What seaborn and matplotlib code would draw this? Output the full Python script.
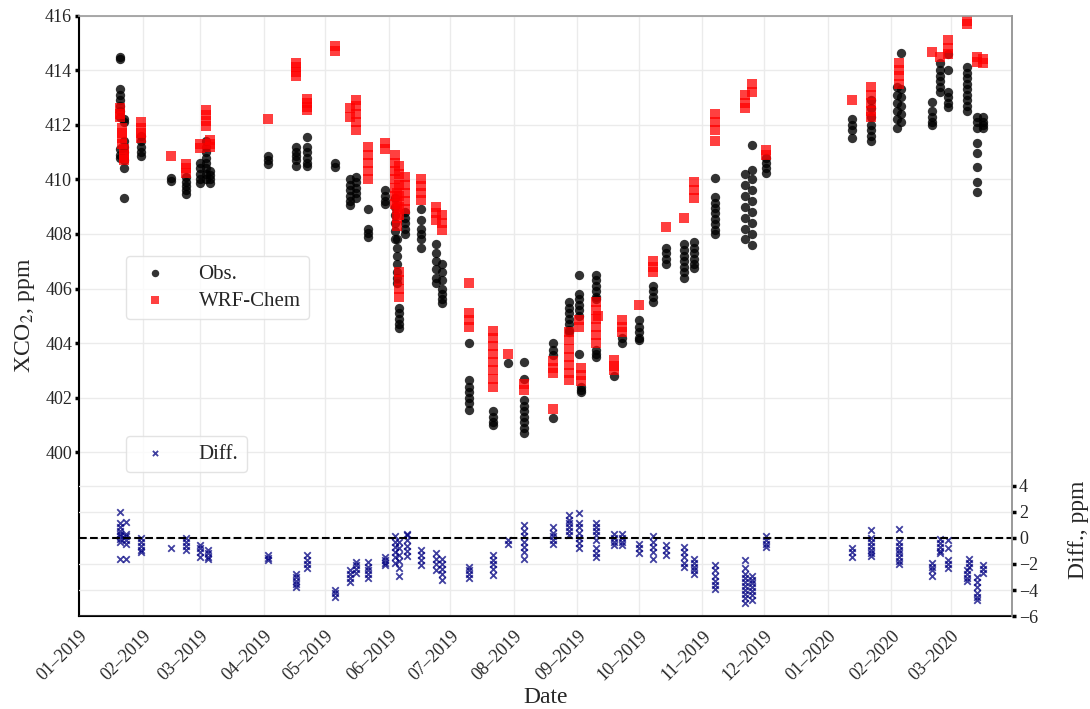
import pandas as pd
import matplotlib
matplotlib.use("Agg")
import matplotlib.pyplot as plt
import matplotlib.dates as mdates
import seaborn as sns

# ==========================================
# Data
# ==========================================

obs_dates = [
    "2019-01-21", "2019-01-23", "2019-01-31", "2019-02-15", "2019-02-22",
    "2019-03-01", "2019-03-04", "2019-03-06", "2019-04-03", "2019-04-17",
    "2019-04-22", "2019-05-06", "2019-05-13", "2019-05-16", "2019-05-22",
    "2019-05-30", "2019-06-04", "2019-06-05", "2019-06-06", "2019-06-09",
    "2019-06-17", "2019-06-24", "2019-06-27", "2019-07-10", "2019-07-22",
    "2019-07-29", "2019-08-06", "2019-08-20", "2019-08-28", "2019-09-02",
    "2019-09-03", "2019-09-10", "2019-09-19", "2019-09-23", "2019-10-01",
    "2019-10-08", "2019-10-14", "2019-10-23", "2019-10-28", "2019-11-07",
    "2019-11-22", "2019-11-25", "2019-12-02", "2020-01-13", "2020-01-22",
    "2020-02-04", "2020-02-06", "2020-02-21", "2020-02-25", "2020-02-29",
    "2020-03-09", "2020-03-14", "2020-03-17",
]
obs_ppm = [
    [414.5, 414.4, 413.3, 413.1, 412.9, 412.7, 412.5, 412.3, 411.1, 410.9, 410.8],
    [412.2, 412.1, 411.4, 411.2, 411.0, 410.7, 410.4, 409.3],
    [411.6, 411.4, 411.2, 411.0, 410.85],
    [410.05, 409.95],
    [410.1, 409.9, 409.75, 409.6, 409.45],
    [410.6, 410.4, 410.2, 410.0, 409.85],
    [411.4, 411.2, 411.0, 410.8, 410.6, 410.4, 410.2, 410.0],
    [410.3, 410.15, 410.0, 409.85],
    [410.85, 410.7, 410.55],
    [411.2, 411.0, 410.85, 410.7, 410.5],
    [411.55, 411.2, 411.0, 410.8, 410.6, 410.5],
    [410.6, 410.45],
    [410.0, 409.8, 409.6, 409.4, 409.2, 409.05],
    [410.1, 409.9, 409.7, 409.5, 409.3],
    [408.9, 408.2, 408.05, 407.9],
    [409.6, 409.4, 409.2, 409.1],
    [409.3, 409.0, 408.7, 408.4, 408.1, 407.8],
    [407.8, 407.5, 407.2, 406.9, 406.6, 406.4, 406.2],
    [405.3, 405.1, 404.9, 404.7, 404.55],
    [408.8, 408.6, 408.4, 408.2, 408.0],
    [408.9, 408.5, 408.2, 408.0, 407.8, 407.5],
    [407.65, 407.3, 407.0, 406.7, 406.4, 406.2],
    [406.9, 406.6, 406.3, 406.0, 405.8, 405.6, 405.46],
    [404.0, 402.65, 402.4, 402.2, 402.0, 401.8, 401.55],
    [401.5, 401.3, 401.1, 401.0],
    [403.27],
    [403.3, 402.7, 401.9, 401.7, 401.5, 401.3, 401.1, 400.9, 400.7],
    [404.0, 403.75, 403.55, 401.25],
    [405.5, 405.3, 405.1, 404.9, 404.7, 404.5, 404.4],
    [406.5, 405.8, 405.6, 405.4, 405.2, 405.0, 403.6],
    [402.4, 402.3, 402.2],
    [406.5, 406.3, 406.1, 405.9, 405.7, 405.6, 403.75, 403.6, 403.5],
    [402.8],
    [404.2, 404.0],
    [404.85, 404.6, 404.4, 404.2, 404.1],
    [406.1, 405.9, 405.7, 405.5],
    [407.5, 407.3, 407.1, 406.9],
    [407.65, 407.4, 407.2, 407.0, 406.8, 406.6, 406.4],
    [407.7, 407.5, 407.3, 407.1, 406.9, 406.75],
    [410.05, 409.35, 409.15, 408.95, 408.75, 408.55, 408.35, 408.15, 408.0],
    [410.2, 409.8, 409.4, 409.0, 408.6, 408.2, 407.8],
    [411.27, 410.35, 410.0, 409.6, 409.2, 408.8, 408.4, 408.0, 407.6],
    [410.8, 410.6, 410.4, 410.25],
    [412.2, 412.0, 411.8, 411.5],
    [412.9, 412.6, 412.3, 412.0, 411.8, 411.6, 411.4],
    [413.4, 413.1, 412.8, 412.5, 412.2, 411.9],
    [414.63, 413.3, 413.0, 412.7, 412.4, 412.1],
    [412.85, 412.5, 412.3, 412.1, 412.0],
    [414.27, 414.0, 413.8, 413.6, 413.4, 413.2],
    [414.6, 414.0, 413.2, 413.0, 412.8, 412.65],
    [414.1, 413.9, 413.7, 413.5, 413.3, 413.1, 412.9, 412.7, 412.5],
    [412.3, 412.1, 411.9, 411.33, 410.97, 410.47, 409.9, 409.55],
    [412.3, 412.1, 412.0, 411.9],
]

wrf_dates = [
    "2019-01-21", "2019-01-22", "2019-01-23", "2019-01-31", "2019-02-15",
    "2019-02-22", "2019-03-01", "2019-03-04", "2019-03-06", "2019-04-03",
    "2019-04-17", "2019-04-22", "2019-05-06", "2019-05-13", "2019-05-16",
    "2019-05-22", "2019-05-30", "2019-06-04", "2019-06-05", "2019-06-06",
    "2019-06-09", "2019-06-17", "2019-06-24", "2019-06-27", "2019-07-10",
    "2019-07-22", "2019-07-29", "2019-08-06", "2019-08-20", "2019-08-28",
    "2019-09-02", "2019-09-03", "2019-09-10", "2019-09-11", "2019-09-19",
    "2019-09-23", "2019-10-01", "2019-10-08", "2019-10-14", "2019-10-23",
    "2019-10-28", "2019-11-07", "2019-11-22", "2019-11-25", "2019-12-02",
    "2020-01-13", "2020-01-22", "2020-02-05", "2020-02-21", "2020-02-25",
    "2020-02-29", "2020-03-09", "2020-03-14", "2020-03-17",
]
wrf_ppm = [
    [412.6, 412.4, 412.3],
    [411.9, 411.7, 411.5, 411.3],
    [411.1, 410.9, 410.8, 410.7],
    [412.1, 411.9, 411.7, 411.5],
    [410.85],
    [410.55, 410.4, 410.25],
    [411.3, 411.15],
    [412.55, 412.35, 412.15, 411.95],
    [411.45, 411.3, 411.2],
    [412.2],
    [414.25, 414.1, 413.95, 413.8],
    [412.95, 412.8, 412.65, 412.55],
    [414.9, 414.7],
    [412.6, 412.3],
    [412.9, 412.7, 412.4, 412.1, 411.8],
    [411.2, 410.9, 410.6, 410.3, 410.0],
    [411.35, 411.1],
    [410.9, 410.6, 410.3, 410.0, 409.7, 409.4, 409.1],
    [409.5, 409.2, 408.9, 408.6, 408.3],
    [410.5, 410.2, 409.8, 409.4, 409.0, 408.7, 406.6, 406.3, 406.0, 405.7],
    [410.1, 409.8, 409.5, 409.2, 408.9],
    [410.0, 409.75, 409.5, 409.25],
    [409.0, 408.75, 408.5],
    [408.7, 408.4, 408.15],
    [406.2, 405.1, 404.85, 404.6],
    [404.45, 404.2, 403.9, 403.6, 403.3, 403.0, 402.7, 402.4],
    [403.6],
    [402.5, 402.3],
    [403.35, 403.1, 402.9, 401.6],
    [404.4, 404.1, 403.8, 403.5, 403.2, 402.9, 402.65],
    [404.85, 404.6],
    [403.1, 402.85, 402.6],
    [405.5, 405.2, 404.9, 404.6, 404.3, 404.0],
    [405.0],
    [403.4, 403.15, 403.0],
    [404.85, 404.6, 404.4],
    [405.4],
    [407.0, 406.8, 406.6],
    [408.27],
    [408.6],
    [409.9, 409.6, 409.3],
    [412.4, 412.1, 411.8, 411.4],
    [413.1, 412.8, 412.6],
    [413.5, 413.2],
    [411.08, 410.9],
    [412.9],
    [413.4, 413.1, 412.8, 412.5, 412.3],
    [414.27, 414.0, 413.8, 413.5],
    [414.67],
    [414.5],
    [415.1, 414.8, 414.6],
    [415.8, 415.7],
    [414.5, 414.3],
    [414.4, 414.27],
]

diff_dates = [
    "2019-01-21", "2019-01-24", "2019-01-31", "2019-02-15", "2019-02-22",
    "2019-03-01", "2019-03-05", "2019-04-03", "2019-04-17", "2019-04-22",
    "2019-05-06", "2019-05-13", "2019-05-16", "2019-05-22", "2019-05-30",
    "2019-06-04", "2019-06-06", "2019-06-10", "2019-06-17", "2019-06-24",
    "2019-06-27", "2019-07-10", "2019-07-22", "2019-07-29", "2019-08-06",
    "2019-08-20", "2019-08-28", "2019-09-02", "2019-09-10", "2019-09-19",
    "2019-09-23", "2019-10-01", "2019-10-08", "2019-10-14", "2019-10-23",
    "2019-10-28", "2019-11-07", "2019-11-22", "2019-11-25", "2019-12-02",
    "2020-01-13", "2020-01-22", "2020-02-05", "2020-02-21", "2020-02-25",
    "2020-02-29", "2020-03-09", "2020-03-10", "2020-03-14", "2020-03-17",
]
diff_ppm = [
    [2.0, 1.1, 0.8, 0.5, 0.3, 0.1, -0.1, -0.3, -1.6],
    [1.2, 0.3, 0.1, -0.2, -0.5, -1.6],
    [-0.05, -0.3, -0.6, -0.9, -1.1],
    [-0.8],
    [-0.05, -0.3, -0.6, -0.95],
    [-0.55, -0.8, -1.1, -1.45],
    [-0.95, -1.2, -1.45, -1.6],
    [-1.35, -1.55, -1.7],
    [-2.75, -3.0, -3.3, -3.55, -3.8],
    [-1.35, -1.7, -2.0, -2.35],
    [-4.0, -4.25, -4.5],
    [-2.5, -2.8, -3.1, -3.4],
    [-1.85, -2.1, -2.4, -2.7],
    [-1.85, -2.2, -2.5, -2.8, -3.1],
    [-1.45, -1.7, -1.9, -2.1],
    [0.1, -0.3, -0.7, -1.1, -1.5, -1.9],
    [-0.3, -0.8, -1.3, -1.8, -2.3, -2.9],
    [0.3, 0.2, -0.2, -0.6, -1.0, -1.4],
    [-0.95, -1.3, -1.7, -2.1],
    [-1.2, -1.6, -2.0, -2.5],
    [-1.6, -2.0, -2.4, -2.8, -3.25],
    [-2.25, -2.5, -2.8, -3.1],
    [-1.35, -1.7, -2.0, -2.4, -2.85],
    [-0.2, -0.45],
    [0.95, 0.5, 0.1, -0.3, -0.7, -1.1, -1.6],
    [0.85, 0.4, 0.1, -0.2, -0.45],
    [1.75, 1.4, 1.1, 0.8, 0.5, 0.2],
    [1.9, 1.1, 0.8, 0.4, 0.0, -0.4, -0.8],
    [1.1, 0.8, 0.5, 0.2, -0.2, -0.8, -1.15, -1.45],
    [0.3, 0.0, -0.3, -0.55],
    [0.3, 0.0, -0.3, -0.55],
    [-0.45, -0.8, -1.2],
    [0.1, -0.3, -0.7, -1.1, -1.6],
    [-0.55, -0.9, -1.3],
    [-0.7, -1.1, -1.5, -1.9, -2.2],
    [-1.6, -1.9, -2.2, -2.5, -2.75],
    [-2.1, -2.5, -2.9, -3.3, -3.6, -3.9],
    [-1.7, -2.35, -2.75, -3.1, -3.4, -3.7, -4.0, -4.3, -4.6, -5.0],
    [-2.9, -3.2, -3.5, -3.8, -4.1, -4.4, -4.8],
    [0.1, -0.2, -0.45, -0.7],
    [-0.75, -1.1, -1.5],
    [0.6, 0.0, -0.3, -0.6, -0.9, -1.2, -1.4],
    [0.7, -0.3, -0.6, -0.9, -1.2, -1.5, -1.8, -2.0],
    [-1.9, -2.2, -2.5, -2.9],
    [-0.1, -0.4, -0.7, -1.0, -1.2],
    [-0.2, -0.8, -1.7, -2.0, -2.3],
    [-2.5, -2.8, -3.1, -3.3],
    [-1.6, -1.9, -2.2],
    [-3.0, -3.4, -3.8, -4.2, -4.5, -4.8],
    [-2.1, -2.4, -2.7],
]

month_ticks = pd.date_range("2019-01-01", "2020-03-01", freq="MS")
left_ticks = [400, 402, 404, 406, 408, 410, 412, 414, 416]
right_ticks = [-6, -4, -2, 0, 2, 4]


def to_frame(dates, values):
    rows = []
    for d, vals in zip(dates, values):
        for v in vals:
            rows.append((pd.Timestamp(d), v))
    return pd.DataFrame(rows, columns=["Date", "Value"])


obs_df = to_frame(obs_dates, obs_ppm)
wrf_df = to_frame(wrf_dates, wrf_ppm)
diff_df = to_frame(diff_dates, diff_ppm)

# ==========================================
# Style
# ==========================================

sns.set_style("whitegrid")
plt.rcParams["font.family"] = ["Liberation Serif", "DejaVu Serif"]
plt.rcParams["mathtext.fontset"] = "stix"
plt.rcParams["axes.unicode_minus"] = True

fig = plt.figure(figsize=(10.9, 7.09), dpi=100)
ax = fig.add_axes([0.0725, 0.131, 0.856, 0.847])

# ==========================================
# Main panel: observations and model
# ==========================================

sns.scatterplot(data=obs_df, x="Date", y="Value", ax=ax, color="black",
                marker="o", s=45, alpha=0.8, linewidth=0, label="Obs.")
sns.scatterplot(data=wrf_df, x="Date", y="Value", ax=ax, color="red",
                marker="s", s=45, alpha=0.75, linewidth=0, label="WRF-Chem")

ax.set_xlim(pd.Timestamp("2019-01-01"), pd.Timestamp("2020-03-31"))
ax.set_ylim(394, 416)
ax.set_yticks(left_ticks)
ax.set_xticks(month_ticks)
ax.xaxis.set_major_formatter(mdates.DateFormatter("%m\u2013%Y"))
plt.setp(ax.get_xticklabels(), rotation=45, ha="right", rotation_mode="anchor")
ax.tick_params(axis="both", labelsize=13, length=3, width=2.5, color="black",
               direction="out", pad=2)
ax.tick_params(axis="x", pad=5)
ax.set_xlabel("Date", fontsize=17, labelpad=2)
ax.set_ylabel("XCO$_2$, ppm", fontsize=17, labelpad=6)
ax.grid(True, color="#ebebeb", linewidth=1)

for side in ["left", "bottom"]:
    ax.spines[side].set_color("black")
    ax.spines[side].set_linewidth(1.5)
for side in ["top", "right"]:
    ax.spines[side].set_color("#9a9a9a")
    ax.spines[side].set_linewidth(1.2)

leg1 = ax.legend(loc="upper left", bbox_to_anchor=(0.05, 0.6), fontsize=15,
                 frameon=True, handletextpad=1.1, borderpad=0.4,
                 borderaxespad=0, labelspacing=0.35, markerscale=0.8)
leg1.get_frame().set_edgecolor("#dddddd")

# ==========================================
# Twin axis: model - observation difference
# ==========================================

ax2 = ax.twinx()
sns.scatterplot(data=diff_df, x="Date", y="Value", ax=ax2, color="navy",
                marker="x", s=22, alpha=0.75, linewidth=1.3, label="Diff.")
ax2.axhline(0, color="black", linestyle="--", linewidth=1.5)
ax2.set_ylim(-6, 40)
ax2.set_yticks(right_ticks)
ax2.tick_params(axis="y", labelsize=13, length=3, width=2.5, color="black",
                direction="out", pad=2)
ax2.set_ylabel("Diff., ppm", fontsize=17)
ax2.yaxis.set_label_coords(1.06, 0.143)
ax2.grid(True, color="#ebebeb", linewidth=1)
ax2.grid(False, axis="x")
for side in ["left", "bottom", "top"]:
    ax2.spines[side].set_visible(False)
ax2.spines["right"].set_color("#9a9a9a")
ax2.spines["right"].set_linewidth(1.2)

leg2 = ax2.legend(loc="upper left", bbox_to_anchor=(0.05, 0.3), fontsize=15,
                  frameon=True, handletextpad=1.1, borderpad=0.4,
                  borderaxespad=0, markerscale=0.8)
leg2.get_frame().set_edgecolor("#dddddd")

fig.savefig("out.png", dpi=100)
